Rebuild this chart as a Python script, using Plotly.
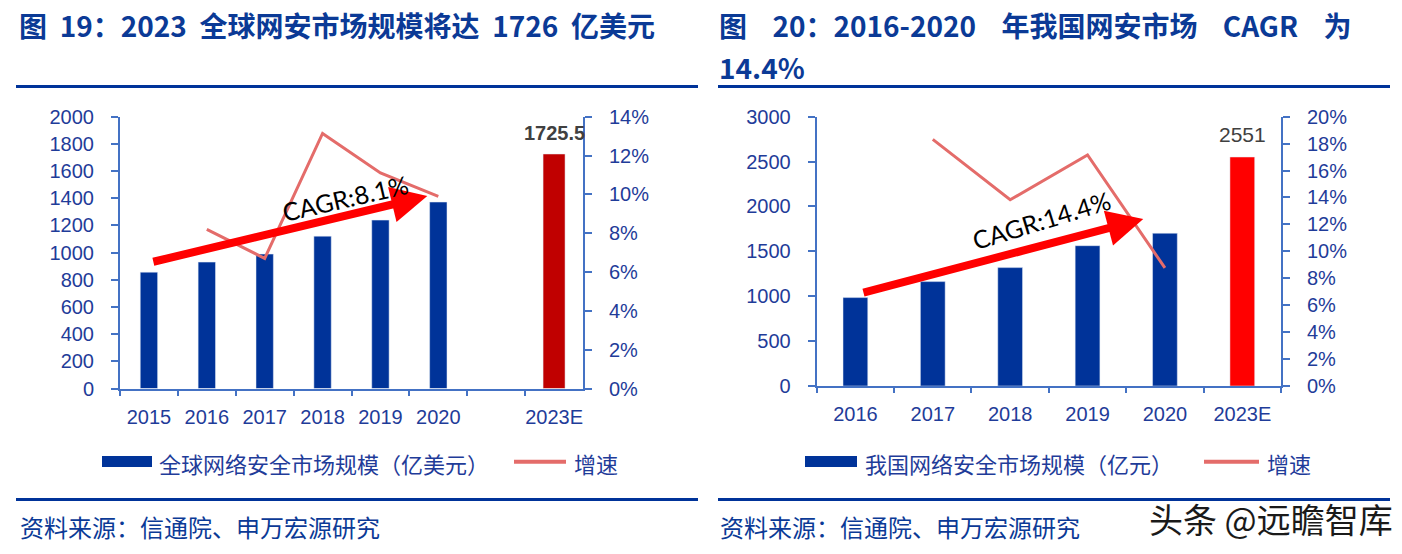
import plotly.graph_objects as go

W, H = 1402, 554

# ---------------- data ----------------
left_categories = ["2015", "2016", "2017", "2018", "2019", "2020", " ", "2023E"]
left_hist_years = ["2015", "2016", "2017", "2018", "2019", "2020"]
left_hist_values = [856, 930, 989, 1121, 1239, 1372]
left_fcst_years = ["2023E"]
left_fcst_values = [1725.5]
left_growth_years = ["2016", "2017", "2018", "2019", "2020"]
left_growth_values = [0.082, 0.067, 0.1314, 0.111, 0.099]

right_categories = ["2016", "2017", "2018", "2019", "2020", "2023E"]
right_hist_years = ["2016", "2017", "2018", "2019", "2020"]
right_hist_values = [985, 1163, 1319, 1563, 1702]
right_fcst_years = ["2023E"]
right_fcst_values = [2551]
right_growth_years = ["2017", "2018", "2019", "2020"]
right_growth_values = [0.1832, 0.1383, 0.1716, 0.0877]

NB = "\u00a0"
left_title = "图" + NB * 2 + "19：2023" + NB * 2 + "全球网安市场规模将达" + NB * 2 + "1726" + NB * 2 + "亿美元"
right_title_l1 = "图" + NB * 4 + "20：2016-2020" + NB * 4 + "年我国网安市场" + NB * 4 + "CAGR" + NB * 4 + "为"
right_title_l2 = "14.4%"
left_legend_bar = "全球网络安全市场规模（亿美元）"
right_legend_bar = "我国网络安全市场规模（亿元）"
legend_line = "增速"
source_text = "资料来源：信通院、申万宏源研究"
watermark = "头条 @远瞻智库"

# ---------------- styles ----------------
BLUE_BAR = "#003399"
DARK_RED = "#C00000"
RED = "#FF0000"
LINE_C = "#E46C6A"
AXIS_C = "#4472C4"
TICK_C = "#1F3C99"
TITLE_C = "#0B3A96"
ARIAL = "Liberation Sans, Arial, sans-serif"
CJK = "Noto Sans CJK SC, sans-serif"


def px(x):
    return x / W


def py(y):
    return 1 - y / H


fig = go.Figure()

# left chart
fig.add_trace(go.Bar(x=left_hist_years, y=left_hist_values, marker_color=BLUE_BAR,
                     width=0.30, xaxis="x", yaxis="y", showlegend=False))
fig.add_trace(go.Bar(x=left_fcst_years, y=left_fcst_values, marker_color=DARK_RED,
                     width=0.38, xaxis="x", yaxis="y", showlegend=False))
fig.add_trace(go.Scatter(x=left_growth_years, y=left_growth_values, mode="lines",
                         line=dict(color=LINE_C, width=3), xaxis="x", yaxis="y2",
                         showlegend=False))
# right chart
fig.add_trace(go.Bar(x=right_hist_years, y=right_hist_values, marker_color=BLUE_BAR,
                     width=0.32, xaxis="x2", yaxis="y3", showlegend=False))
fig.add_trace(go.Bar(x=right_fcst_years, y=right_fcst_values, marker_color=RED,
                     width=0.32, xaxis="x2", yaxis="y3", showlegend=False))
fig.add_trace(go.Scatter(x=right_growth_years, y=right_growth_values, mode="lines",
                         line=dict(color=LINE_C, width=3), xaxis="x2", yaxis="y4",
                         showlegend=False))

tickfont = dict(family=ARIAL, size=20, color=TICK_C)
xcommon = dict(type="category", categoryorder="array", tickson="boundaries",
               ticks="outside", ticklen=5, tickwidth=2, tickcolor=AXIS_C,
               showline=True, linecolor=AXIS_C, linewidth=2, showgrid=False,
               zeroline=False, tickfont=tickfont, ticklabelstandoff=9,
               tickangle=0, automargin=False)
ycommon = dict(ticks="outside", ticklen=7, tickwidth=2, tickcolor=AXIS_C,
               showline=True, linecolor=AXIS_C, linewidth=2, showgrid=False,
               zeroline=False, tickfont=tickfont, ticklabelstandoff=13,
               automargin=False)

fig.update_layout(
    width=W, height=H, margin=dict(l=0, r=0, t=0, b=0, pad=0, autoexpand=False),
    paper_bgcolor="white", plot_bgcolor="white", barmode="overlay",
    showlegend=False,
    xaxis=dict(xcommon, domain=[px(120), px(583)], anchor="y",
               categoryarray=left_categories, range=[-0.5, 7.5]),
    yaxis=dict(ycommon, domain=[py(388.5), py(116.7)], anchor="x",
               range=[0, 2000], dtick=200),
    yaxis2=dict(ycommon, overlaying="y", side="right", anchor="x",
                range=[0, 0.14], dtick=0.02, tickformat=".0%"),
    xaxis2=dict(xcommon, domain=[px(816.7), px(1281)], anchor="y3",
                categoryarray=right_categories, range=[-0.5, 5.5]),
    yaxis3=dict(ycommon, domain=[py(386), py(116.7)], anchor="x2",
                range=[0, 3000], dtick=500),
    yaxis4=dict(ycommon, overlaying="y3", side="right", anchor="x2",
                range=[0, 0.20], dtick=0.02, tickformat=".0%"),
)

ann = []
# value labels
ann.append(dict(x=left_fcst_years[0], y=left_fcst_values[0], xref="x", yref="y",
                text="<b>%s</b>" % left_fcst_values[0], showarrow=False,
                yanchor="bottom", yshift=8,
                font=dict(family=ARIAL, size=20, color="#404040")))
ann.append(dict(x=right_hist_years[-1], y=right_hist_values[-1], xref="x2", yref="y3",
                text=str(right_hist_values[-1]), showarrow=False,
                yanchor="bottom", yshift=9,
                font=dict(family=ARIAL, size=21, color="#404040")))
ann.append(dict(x=right_fcst_years[0], y=right_fcst_values[0], xref="x2", yref="y3",
                text=str(right_fcst_values[0]), showarrow=False,
                yanchor="bottom", yshift=9,
                font=dict(family=ARIAL, size=21, color="#404040")))

# CAGR arrows (decoration)
ann.append(dict(x=4.81, y=1416, ax=0.05, ay=930, xref="x", yref="y", axref="x", ayref="y",
                text="", showarrow=True, arrowhead=2, arrowsize=0.9, arrowwidth=8,
                arrowcolor=RED))
ann.append(dict(x=3.38, y=1405, xref="x", yref="y", text="CAGR:8.1%", showarrow=False,
                textangle=-13, font=dict(family="Lato, sans-serif", size=25, color="black")))
ann.append(dict(x=3.72, y=1860, ax=0.085, ay=1036, xref="x2", yref="y3", axref="x2", ayref="y3",
                text="", showarrow=True, arrowhead=2, arrowsize=0.9, arrowwidth=8,
                arrowcolor=RED))
ann.append(dict(x=2.40, y=1849, xref="x2", yref="y3", text="CAGR:14.4%", showarrow=False,
                textangle=-17, font=dict(family="Lato, sans-serif", size=25, color="black")))

# titles
title_font = dict(family=CJK, size=28, color=TITLE_C)
ann.append(dict(x=px(17), y=py(25), xref="paper", yref="paper", xanchor="left", yanchor="middle",
                text="<b>%s</b>" % left_title, showarrow=False, font=title_font))
ann.append(dict(x=px(717), y=py(25), xref="paper", yref="paper", xanchor="left", yanchor="middle",
                text="<b>%s</b>" % right_title_l1, showarrow=False, font=title_font))
ann.append(dict(x=px(717), y=py(67), xref="paper", yref="paper", xanchor="left", yanchor="middle",
                text="<b>%s</b>" % right_title_l2, showarrow=False, font=title_font))

# legends
leg_font = dict(family=CJK, size=22, color=TICK_C)
ann.append(dict(x=px(157), y=py(463), xref="paper", yref="paper", xanchor="left", yanchor="middle",
                text=left_legend_bar, showarrow=False, font=leg_font))
ann.append(dict(x=px(572), y=py(463), xref="paper", yref="paper", xanchor="left", yanchor="middle",
                text=legend_line, showarrow=False, font=leg_font))
ann.append(dict(x=px(863), y=py(463), xref="paper", yref="paper", xanchor="left", yanchor="middle",
                text=right_legend_bar, showarrow=False, font=leg_font))
ann.append(dict(x=px(1265), y=py(463), xref="paper", yref="paper", xanchor="left", yanchor="middle",
                text=legend_line, showarrow=False, font=leg_font))

# sources
src_font = dict(family=CJK, size=24, color=TITLE_C)
ann.append(dict(x=px(18), y=py(526), xref="paper", yref="paper", xanchor="left", yanchor="middle",
                text=source_text, showarrow=False, font=src_font))
ann.append(dict(x=px(718), y=py(526), xref="paper", yref="paper", xanchor="left", yanchor="middle",
                text=source_text, showarrow=False, font=src_font))
ann.append(dict(x=px(1395), y=py(518), xref="paper", yref="paper", xanchor="right", yanchor="middle",
                text=watermark, showarrow=False,
                font=dict(family=CJK, size=34, color="#1a1a1a")))

shapes = []
# title and footer rules
for (x0, x1) in [(16, 698), (718, 1390)]:
    shapes.append(dict(type="line", xref="paper", yref="paper", x0=px(x0), x1=px(x1),
                       y0=py(86.5), y1=py(86.5), line=dict(color=BLUE_BAR, width=3)))
    shapes.append(dict(type="line", xref="paper", yref="paper", x0=px(x0), x1=px(x1),
                       y0=py(499.5), y1=py(499.5), line=dict(color=BLUE_BAR, width=3)))
# legend swatches
for (x0, x1) in [(102, 152), (805, 857)]:
    shapes.append(dict(type="rect", xref="paper", yref="paper", x0=px(x0), x1=px(x1),
                       y0=py(467), y1=py(456), fillcolor=BLUE_BAR, line=dict(width=0)))
for (x0, x1) in [(514, 566), (1204, 1259)]:
    shapes.append(dict(type="line", xref="paper", yref="paper", x0=px(x0), x1=px(x1),
                       y0=py(461.7), y1=py(461.7), line=dict(color=LINE_C, width=4)))

fig.update_layout(annotations=ann, shapes=shapes)
fig.write_html(
    "out.html",
    config={"displayModeBar": False},
    post_script="document.body.style.margin='0';document.body.style.padding='0';"
                "document.body.style.overflow='hidden';window.dispatchEvent(new Event('resize'));",
)
